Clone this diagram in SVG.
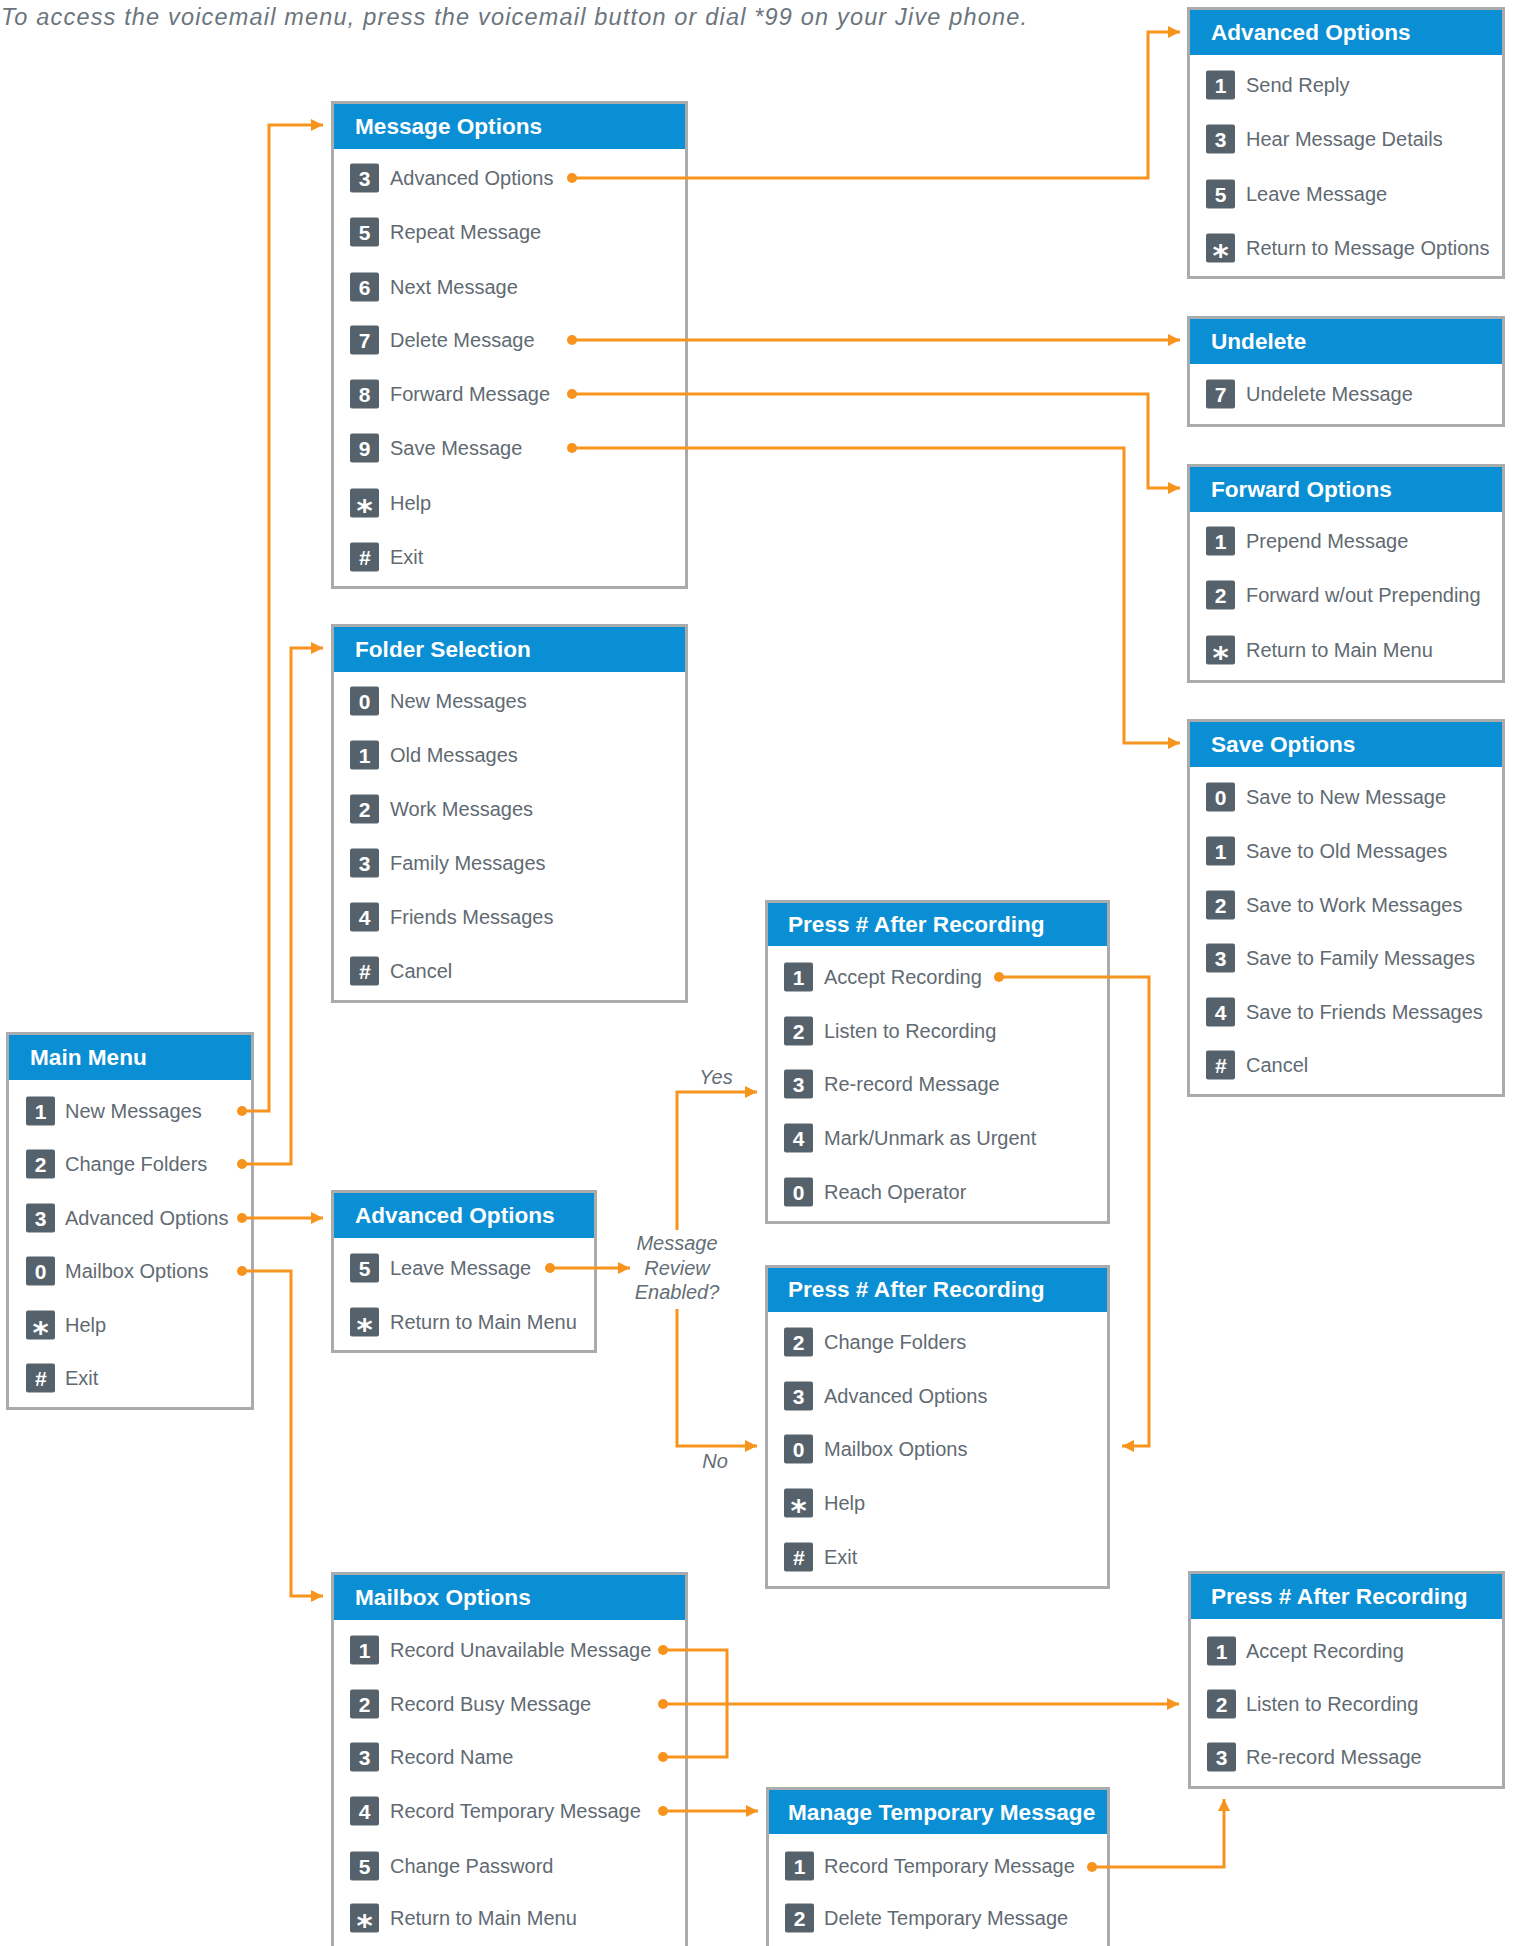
<svg xmlns="http://www.w3.org/2000/svg" width="1516" height="1946" viewBox="0 0 1516 1946">
<style>
.box{fill:#fff;stroke:#a9abad;stroke-width:3}
.hdr{fill:#0a8ed4}
.title{font-family:"Liberation Sans",Arial,sans-serif;font-weight:bold;font-size:22.6px;fill:#fff}
.key{fill:#56626b}
.kd{font-family:"Liberation Sans",Arial,sans-serif;font-weight:bold;font-size:21px;fill:#fff;text-anchor:middle}
.ks{font-family:"DejaVu Sans",sans-serif;font-weight:bold;font-size:31px;fill:#fff;text-anchor:middle}
.kh{font-family:"Liberation Sans",Arial,sans-serif;font-weight:bold;font-style:italic;font-size:21px;fill:#fff;text-anchor:middle}
.item{font-family:"Liberation Sans",Arial,sans-serif;font-size:20px;fill:#5f6a72}
.note{font-family:"Liberation Sans",Arial,sans-serif;font-style:italic;font-size:20px;fill:#646e76}
.intro{font-family:"Liberation Sans",Arial,sans-serif;font-style:italic;font-size:23.5px;fill:#6b757d}
.ln{fill:none;stroke:#f7941d;stroke-width:3}
.dot{fill:#f7941d}
</style>
<defs>
<marker id="ah" markerUnits="userSpaceOnUse" markerWidth="13" markerHeight="13" refX="12" refY="6.5" orient="auto">
<path d="M0,0.5 L12,6.5 L0,12.5 z" fill="#f7941d"/>
</marker>
</defs>

<text class="intro" x="1" y="25" textLength="1026" lengthAdjust="spacing">To access the voicemail menu, press the voicemail button or dial *99 on your Jive phone.</text>

<!-- Message Options L331 R688 T101 HB149 B589 -->
<g id="message-options">
<rect class="box" x="332.5" y="102.5" width="354" height="485"/>
<rect class="hdr" x="334" y="104" width="351" height="45"/>
<text class="title" x="355" y="133.5">Message Options</text>
<rect class="key" x="350" y="163.5" width="29" height="29" rx="2"/><text class="kd" x="364.5" y="185.7">3</text><text class="item" x="390" y="185.2">Advanced Options</text>
<rect class="key" x="350" y="217.5" width="29" height="29" rx="2"/><text class="kd" x="364.5" y="239.7">5</text><text class="item" x="390" y="239.2">Repeat Message</text>
<rect class="key" x="350" y="272.5" width="29" height="29" rx="2"/><text class="kd" x="364.5" y="294.7">6</text><text class="item" x="390" y="294.2">Next Message</text>
<rect class="key" x="350" y="325.5" width="29" height="29" rx="2"/><text class="kd" x="364.5" y="347.7">7</text><text class="item" x="390" y="347.2">Delete Message</text>
<rect class="key" x="350" y="379.5" width="29" height="29" rx="2"/><text class="kd" x="364.5" y="401.7">8</text><text class="item" x="390" y="401.2">Forward Message</text>
<rect class="key" x="350" y="433.5" width="29" height="29" rx="2"/><text class="kd" x="364.5" y="455.7">9</text><text class="item" x="390" y="455.2">Save Message</text>
<rect class="key" x="350" y="488.5" width="29" height="29" rx="2"/><text class="ks" x="364.5" y="520.5">*</text><text class="item" x="390" y="510.2">Help</text>
<rect class="key" x="350" y="542.5" width="29" height="29" rx="2"/><text class="kh" x="364.5" y="564.5">#</text><text class="item" x="390" y="564.2">Exit</text>
</g>

<!-- Folder Selection L331 R688 T624 HB672 B1003 -->
<g id="folder-selection">
<rect class="box" x="332.5" y="625.5" width="354" height="376"/>
<rect class="hdr" x="334" y="627" width="351" height="45"/>
<text class="title" x="355" y="656.5">Folder Selection</text>
<rect class="key" x="350" y="686.5" width="29" height="29" rx="2"/><text class="kd" x="364.5" y="708.7">0</text><text class="item" x="390" y="708.2">New Messages</text>
<rect class="key" x="350" y="740.5" width="29" height="29" rx="2"/><text class="kd" x="364.5" y="762.7">1</text><text class="item" x="390" y="762.2">Old Messages</text>
<rect class="key" x="350" y="794.5" width="29" height="29" rx="2"/><text class="kd" x="364.5" y="816.7">2</text><text class="item" x="390" y="816.2">Work Messages</text>
<rect class="key" x="350" y="848.5" width="29" height="29" rx="2"/><text class="kd" x="364.5" y="870.7">3</text><text class="item" x="390" y="870.2">Family Messages</text>
<rect class="key" x="350" y="902.5" width="29" height="29" rx="2"/><text class="kd" x="364.5" y="924.7">4</text><text class="item" x="390" y="924.2">Friends Messages</text>
<rect class="key" x="350" y="956.5" width="29" height="29" rx="2"/><text class="kh" x="364.5" y="978.5">#</text><text class="item" x="390" y="978.2">Cancel</text>
</g>

<!-- Main Menu L6 R254 T1032 HB1080 B1410 -->
<g id="main-menu">
<rect class="box" x="7.5" y="1033.5" width="245" height="375"/>
<rect class="hdr" x="9" y="1035" width="242" height="45"/>
<text class="title" x="30" y="1064.5">Main Menu</text>
<rect class="key" x="26" y="1096.5" width="29" height="29" rx="2"/><text class="kd" x="40.5" y="1118.7">1</text><text class="item" x="65" y="1118.2">New Messages</text>
<rect class="key" x="26" y="1149.5" width="29" height="29" rx="2"/><text class="kd" x="40.5" y="1171.7">2</text><text class="item" x="65" y="1171.2">Change Folders</text>
<rect class="key" x="26" y="1203.5" width="29" height="29" rx="2"/><text class="kd" x="40.5" y="1225.7">3</text><text class="item" x="65" y="1225.2">Advanced Options</text>
<rect class="key" x="26" y="1256.5" width="29" height="29" rx="2"/><text class="kd" x="40.5" y="1278.7">0</text><text class="item" x="65" y="1278.2">Mailbox Options</text>
<rect class="key" x="26" y="1310.5" width="29" height="29" rx="2"/><text class="ks" x="40.5" y="1342.5">*</text><text class="item" x="65" y="1332.2">Help</text>
<rect class="key" x="26" y="1363.5" width="29" height="29" rx="2"/><text class="kh" x="40.5" y="1385.5">#</text><text class="item" x="65" y="1385.2">Exit</text>
</g>

<!-- Advanced Options (middle) L331 R597 T1190 HB1238 B1353 -->
<g id="advanced-options-main">
<rect class="box" x="332.5" y="1191.5" width="263" height="160"/>
<rect class="hdr" x="334" y="1193" width="260" height="45"/>
<text class="title" x="355" y="1222.5">Advanced Options</text>
<rect class="key" x="350" y="1253.5" width="29" height="29" rx="2"/><text class="kd" x="364.5" y="1275.7">5</text><text class="item" x="390" y="1275.2">Leave Message</text>
<rect class="key" x="350" y="1307.5" width="29" height="29" rx="2"/><text class="ks" x="364.5" y="1339.5">*</text><text class="item" x="390" y="1329.2">Return to Main Menu</text>
</g>

<!-- Message review label -->
<g id="message-review-decision">
<text class="note" x="677" y="1250" text-anchor="middle">Message</text>
<text class="note" x="677" y="1275" text-anchor="middle">Review</text>
<text class="note" x="677" y="1299" text-anchor="middle">Enabled?</text>
<text class="note" x="716" y="1084" text-anchor="middle">Yes</text>
<text class="note" x="715" y="1468" text-anchor="middle">No</text>
</g>

<!-- Press # After Recording (review) L765 R1110 T900 HB946 B1224 -->
<g id="press-after-recording-review">
<rect class="box" x="766.5" y="901.5" width="342" height="321"/>
<rect class="hdr" x="768" y="903" width="339" height="43"/>
<text class="title" x="788" y="931.5">Press # After Recording</text>
<rect class="key" x="784" y="962.5" width="29" height="29" rx="2"/><text class="kd" x="798.5" y="984.7">1</text><text class="item" x="824" y="984.2">Accept Recording</text>
<rect class="key" x="784" y="1016.5" width="29" height="29" rx="2"/><text class="kd" x="798.5" y="1038.7">2</text><text class="item" x="824" y="1038.2">Listen to Recording</text>
<rect class="key" x="784" y="1069.5" width="29" height="29" rx="2"/><text class="kd" x="798.5" y="1091.7">3</text><text class="item" x="824" y="1091.2">Re-record Message</text>
<rect class="key" x="784" y="1123.5" width="29" height="29" rx="2"/><text class="kd" x="798.5" y="1145.7">4</text><text class="item" x="824" y="1145.2">Mark/Unmark as Urgent</text>
<rect class="key" x="784" y="1177.5" width="29" height="29" rx="2"/><text class="kd" x="798.5" y="1199.7">0</text><text class="item" x="824" y="1199.2">Reach Operator</text>
</g>

<!-- Press # After Recording (no review) L765 R1110 T1265 HB1312 B1589 -->
<g id="press-after-recording-main">
<rect class="box" x="766.5" y="1266.5" width="342" height="321"/>
<rect class="hdr" x="768" y="1268" width="339" height="44"/>
<text class="title" x="788" y="1297">Press # After Recording</text>
<rect class="key" x="784" y="1327.5" width="29" height="29" rx="2"/><text class="kd" x="798.5" y="1349.7">2</text><text class="item" x="824" y="1349.2">Change Folders</text>
<rect class="key" x="784" y="1381.5" width="29" height="29" rx="2"/><text class="kd" x="798.5" y="1403.7">3</text><text class="item" x="824" y="1403.2">Advanced Options</text>
<rect class="key" x="784" y="1434.5" width="29" height="29" rx="2"/><text class="kd" x="798.5" y="1456.7">0</text><text class="item" x="824" y="1456.2">Mailbox Options</text>
<rect class="key" x="784" y="1488.5" width="29" height="29" rx="2"/><text class="ks" x="798.5" y="1520.5">*</text><text class="item" x="824" y="1510.2">Help</text>
<rect class="key" x="784" y="1542.5" width="29" height="29" rx="2"/><text class="kh" x="798.5" y="1564.5">#</text><text class="item" x="824" y="1564.2">Exit</text>
</g>

<!-- Mailbox Options L331 R688 T1572 HB1620 -->
<g id="mailbox-options">
<rect class="box" x="332.5" y="1573.5" width="354" height="410"/>
<rect class="hdr" x="334" y="1575" width="351" height="45"/>
<text class="title" x="355" y="1604.5">Mailbox Options</text>
<rect class="key" x="350" y="1635.5" width="29" height="29" rx="2"/><text class="kd" x="364.5" y="1657.7">1</text><text class="item" x="390" y="1657.2">Record Unavailable Message</text>
<rect class="key" x="350" y="1689.5" width="29" height="29" rx="2"/><text class="kd" x="364.5" y="1711.7">2</text><text class="item" x="390" y="1711.2">Record Busy Message</text>
<rect class="key" x="350" y="1742.5" width="29" height="29" rx="2"/><text class="kd" x="364.5" y="1764.7">3</text><text class="item" x="390" y="1764.2">Record Name</text>
<rect class="key" x="350" y="1796.5" width="29" height="29" rx="2"/><text class="kd" x="364.5" y="1818.7">4</text><text class="item" x="390" y="1818.2">Record Temporary Message</text>
<rect class="key" x="350" y="1851.5" width="29" height="29" rx="2"/><text class="kd" x="364.5" y="1873.7">5</text><text class="item" x="390" y="1873.2">Change Password</text>
<rect class="key" x="350" y="1903.5" width="29" height="29" rx="2"/><text class="ks" x="364.5" y="1935.5">*</text><text class="item" x="390" y="1925.2">Return to Main Menu</text>
</g>

<!-- Manage Temporary Message L766 R1110 T1787 HB1834 -->
<g id="manage-temporary-message">
<rect class="box" x="767.5" y="1788.5" width="341" height="200"/>
<rect class="hdr" x="769" y="1790" width="338" height="44"/>
<text class="title" x="788" y="1819.5">Manage Temporary Message</text>
<rect class="key" x="785" y="1851.5" width="29" height="29" rx="2"/><text class="kd" x="799.5" y="1873.7">1</text><text class="item" x="824" y="1873.2">Record Temporary Message</text>
<rect class="key" x="785" y="1903.5" width="29" height="29" rx="2"/><text class="kd" x="799.5" y="1925.7">2</text><text class="item" x="824" y="1925.2">Delete Temporary Message</text>
</g>

<!-- Advanced Options (top right) L1187 R1505 T7 HB55 B279 -->
<g id="advanced-options-message">
<rect class="box" x="1188.5" y="8.5" width="315" height="269"/>
<rect class="hdr" x="1190" y="10" width="312" height="45"/>
<text class="title" x="1211" y="39.5">Advanced Options</text>
<rect class="key" x="1206" y="70.5" width="29" height="29" rx="2"/><text class="kd" x="1220.5" y="92.7">1</text><text class="item" x="1246" y="92.2">Send Reply</text>
<rect class="key" x="1206" y="124.5" width="29" height="29" rx="2"/><text class="kd" x="1220.5" y="146.7">3</text><text class="item" x="1246" y="146.2">Hear Message Details</text>
<rect class="key" x="1206" y="179.5" width="29" height="29" rx="2"/><text class="kd" x="1220.5" y="201.7">5</text><text class="item" x="1246" y="201.2">Leave Message</text>
<rect class="key" x="1206" y="233.5" width="29" height="29" rx="2"/><text class="ks" x="1220.5" y="265.5">*</text><text class="item" x="1246" y="255.2">Return to Message Options</text>
</g>

<!-- Undelete L1187 R1505 T316 HB364 B427 -->
<g id="undelete">
<rect class="box" x="1188.5" y="317.5" width="315" height="108"/>
<rect class="hdr" x="1190" y="319" width="312" height="45"/>
<text class="title" x="1211" y="348.5">Undelete</text>
<rect class="key" x="1206" y="379.5" width="29" height="29" rx="2"/><text class="kd" x="1220.5" y="401.7">7</text><text class="item" x="1246" y="401.2">Undelete Message</text>
</g>

<!-- Forward Options L1187 R1505 T464 HB512 B683 -->
<g id="forward-options">
<rect class="box" x="1188.5" y="465.5" width="315" height="216"/>
<rect class="hdr" x="1190" y="467" width="312" height="45"/>
<text class="title" x="1211" y="496.5">Forward Options</text>
<rect class="key" x="1206" y="526.5" width="29" height="29" rx="2"/><text class="kd" x="1220.5" y="548.7">1</text><text class="item" x="1246" y="548.2">Prepend Message</text>
<rect class="key" x="1206" y="580.5" width="29" height="29" rx="2"/><text class="kd" x="1220.5" y="602.7">2</text><text class="item" x="1246" y="602.2">Forward w/out Prepending</text>
<rect class="key" x="1206" y="635.5" width="29" height="29" rx="2"/><text class="ks" x="1220.5" y="667.5">*</text><text class="item" x="1246" y="657.2">Return to Main Menu</text>
</g>

<!-- Save Options L1187 R1505 T719 HB767 B1097 -->
<g id="save-options">
<rect class="box" x="1188.5" y="720.5" width="315" height="375"/>
<rect class="hdr" x="1190" y="722" width="312" height="45"/>
<text class="title" x="1211" y="751.5">Save Options</text>
<rect class="key" x="1206" y="782.5" width="29" height="29" rx="2"/><text class="kd" x="1220.5" y="804.7">0</text><text class="item" x="1246" y="804.2">Save to New Message</text>
<rect class="key" x="1206" y="836.5" width="29" height="29" rx="2"/><text class="kd" x="1220.5" y="858.7">1</text><text class="item" x="1246" y="858.2">Save to Old Messages</text>
<rect class="key" x="1206" y="890.5" width="29" height="29" rx="2"/><text class="kd" x="1220.5" y="912.7">2</text><text class="item" x="1246" y="912.2">Save to Work Messages</text>
<rect class="key" x="1206" y="943.5" width="29" height="29" rx="2"/><text class="kd" x="1220.5" y="965.7">3</text><text class="item" x="1246" y="965.2">Save to Family Messages</text>
<rect class="key" x="1206" y="997.5" width="29" height="29" rx="2"/><text class="kd" x="1220.5" y="1019.7">4</text><text class="item" x="1246" y="1019.2">Save to Friends Messages</text>
<rect class="key" x="1206" y="1050.5" width="29" height="29" rx="2"/><text class="kh" x="1220.5" y="1072.5">#</text><text class="item" x="1246" y="1072.2">Cancel</text>
</g>

<!-- Press # After Recording (greetings) L1188 R1505 T1571 HB1619 B1789 -->
<g id="press-after-recording-greeting">
<rect class="box" x="1189.5" y="1572.5" width="314" height="215"/>
<rect class="hdr" x="1191" y="1574" width="311" height="45"/>
<text class="title" x="1211" y="1603.5">Press # After Recording</text>
<rect class="key" x="1207" y="1636.5" width="29" height="29" rx="2"/><text class="kd" x="1221.5" y="1658.7">1</text><text class="item" x="1246" y="1658.2">Accept Recording</text>
<rect class="key" x="1207" y="1689.5" width="29" height="29" rx="2"/><text class="kd" x="1221.5" y="1711.7">2</text><text class="item" x="1246" y="1711.2">Listen to Recording</text>
<rect class="key" x="1207" y="1742.5" width="29" height="29" rx="2"/><text class="kd" x="1221.5" y="1764.7">3</text><text class="item" x="1246" y="1764.2">Re-record Message</text>
</g>

<g id="connectors">
<path class="ln" d="M572,178 H1148 V32 H1180" marker-end="url(#ah)"/>
<path class="ln" d="M572,340 H1180" marker-end="url(#ah)"/>
<path class="ln" d="M572,394 H1148 V488 H1180" marker-end="url(#ah)"/>
<path class="ln" d="M572,448 H1124 V743 H1180" marker-end="url(#ah)"/>
<path class="ln" d="M242,1111 H269 V125 H323" marker-end="url(#ah)"/>
<path class="ln" d="M242,1164 H291 V648 H323" marker-end="url(#ah)"/>
<path class="ln" d="M242,1218 H323" marker-end="url(#ah)"/>
<path class="ln" d="M242,1271 H291 V1596 H323" marker-end="url(#ah)"/>
<path class="ln" d="M550,1268 H630" marker-end="url(#ah)"/>
<path class="ln" d="M677,1230 V1092 H757" marker-end="url(#ah)"/>
<path class="ln" d="M677,1309 V1446 H757" marker-end="url(#ah)"/>
<path class="ln" d="M999,977 H1149 V1446 H1122" marker-end="url(#ah)"/>
<path class="ln" d="M663,1650 H727 V1757 H663"/>
<path class="ln" d="M663,1704 H1179" marker-end="url(#ah)"/>
<path class="ln" d="M663,1811 H758" marker-end="url(#ah)"/>
<path class="ln" d="M1092,1867 H1224 V1799" marker-end="url(#ah)"/>
<circle class="dot" cx="572" cy="178" r="5"/>
<circle class="dot" cx="572" cy="340" r="5"/>
<circle class="dot" cx="572" cy="394" r="5"/>
<circle class="dot" cx="572" cy="448" r="5"/>
<circle class="dot" cx="242" cy="1111" r="5"/>
<circle class="dot" cx="242" cy="1164" r="5"/>
<circle class="dot" cx="242" cy="1218" r="5"/>
<circle class="dot" cx="242" cy="1271" r="5"/>
<circle class="dot" cx="550" cy="1268" r="5"/>
<circle class="dot" cx="999" cy="977" r="5"/>
<circle class="dot" cx="663" cy="1650" r="5"/>
<circle class="dot" cx="663" cy="1704" r="5"/>
<circle class="dot" cx="663" cy="1757" r="5"/>
<circle class="dot" cx="663" cy="1811" r="5"/>
<circle class="dot" cx="1092" cy="1867" r="5"/>
</g>
</svg>
